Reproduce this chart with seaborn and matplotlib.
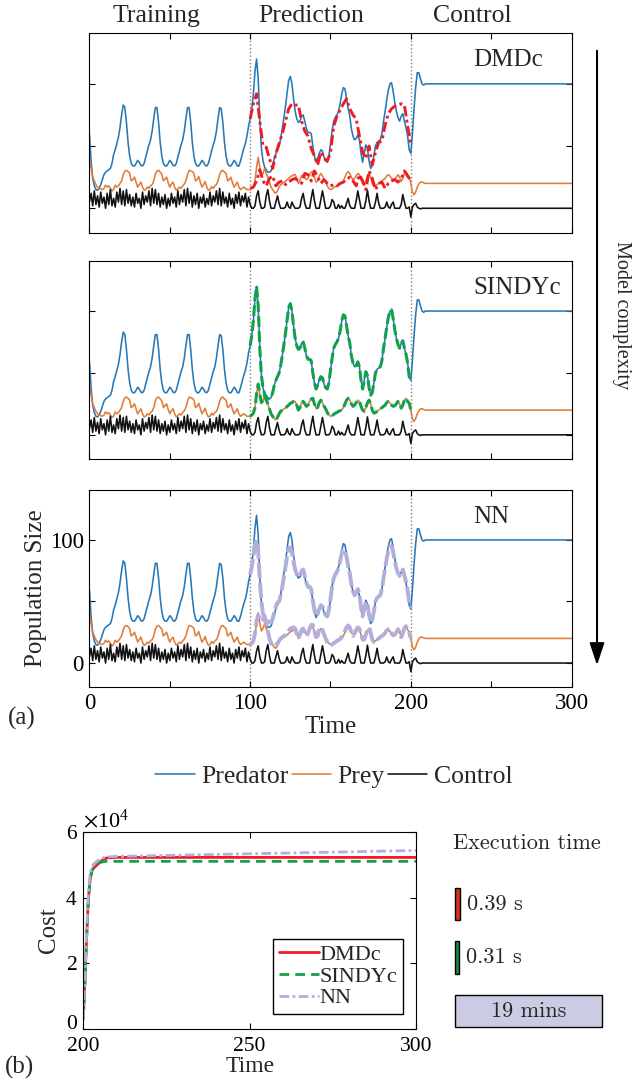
import numpy as np
import matplotlib
matplotlib.use("Agg")
import matplotlib.pyplot as plt
import matplotlib.transforms as mtransforms
from matplotlib.ticker import ScalarFormatter
import seaborn as sns

# ---------------- data ----------------
series_names = ["Predator", "Prey", "Control"]
model_names = ["DMDc", "SINDYc", "NN"]
phase_labels = ["Training", "Prediction", "Control"]
phase_centers = [42, 138, 238]

time_true = list(range(0, 211)) + [300]
predator_true = [
    59, 38, 24, 18, 15, 14.5, 16, 19, 23, 27,
    29, 30, 31, 32, 36, 43, 47, 52, 57, 65,
    75, 83, 81, 69, 53, 42, 36, 34, 34, 36,
    38.5, 37, 34.5, 34, 36, 41, 46, 51, 55, 62,
    72, 81, 81, 69, 53, 42, 36, 34, 34, 36,
    38.5, 37, 34.5, 34, 36, 41, 46, 51, 55, 62,
    72, 81, 81, 69, 53, 42, 36, 34, 34, 36,
    38.5, 37, 34.5, 34, 36, 41, 46, 51, 55, 62,
    72, 81, 80, 69, 53, 42, 36, 34, 34, 36,
    38.5, 37, 34, 34, 38, 43, 48, 52, 58, 66,
    72, 80, 92, 110, 120, 104, 70, 48, 38, 33,
    31, 29, 29, 30, 34, 40, 44, 47, 50, 56,
    64, 73, 82, 93, 103, 106, 100, 88, 78, 72,
    69, 70, 74, 75, 70, 64, 61, 61, 60, 50,
    42, 37, 40, 44, 47, 46, 41, 38, 37, 42,
    52, 62, 70, 73, 75, 78, 84, 92, 97, 96,
    88, 80, 74, 64, 58, 55, 56, 59, 55, 44,
    37, 44, 51, 48, 38, 32, 34, 42, 50, 53,
    54, 55, 60, 70, 78, 87, 95, 100, 101, 94,
    85, 78, 73, 70, 74, 76, 70, 65, 58, 47,
    44, 60, 80, 97, 109, 109, 104, 100, 99, 100,
    100, 100]
prey_true = [
    40, 32, 25, 22, 19, 17, 16, 15.5, 15, 16,
    18.5, 17, 18, 16, 14, 15, 18.5, 17, 18, 20,
    22, 27, 30, 30.5, 29.5, 28, 22, 23, 25, 21,
    17, 19, 21, 17, 14.5, 15, 17, 16, 18, 19,
    22, 27.5, 30, 30.5, 29, 27.5, 22, 23.5, 25, 20.5,
    17, 19.5, 21, 17, 14.5, 15.5, 17, 16, 18, 19.5,
    22, 27, 30.5, 30, 29.5, 28, 22, 23, 25.5, 21,
    17, 19, 21.5, 17, 14.5, 15, 17.5, 16, 18, 19,
    22, 27, 30, 30.5, 29, 28, 22, 23, 25, 20.5,
    17, 19, 21, 17, 15, 16, 17, 16, 15, 15,
    15, 16, 17.5, 22, 33, 41, 33, 26, 28, 32,
    28, 25, 21, 17, 15, 13, 12, 14, 17, 19,
    20, 21, 21.5, 23, 24, 25.5, 26, 27, 27, 24,
    20, 22, 26, 27, 25, 23, 24, 27, 29, 29.5,
    25, 21, 22, 26, 28, 26, 23, 21, 18, 16,
    15, 15.5, 16.5, 17.5, 18, 19, 19.5, 20, 22, 25,
    28, 29.5, 28, 25, 23, 24, 26, 28, 27, 23,
    20, 19, 22, 26, 28, 25, 20, 17.5, 18, 19,
    20, 21, 22, 23, 24, 26, 27, 26, 24, 23,
    23.5, 25, 27, 25, 21.5, 24, 28, 29.5, 27, 25.5,
    20, 13, 10.8, 13, 17, 19.5, 21, 21, 20.5, 20,
    20, 20]
control_true = [
    5, 12, 2, 14, 3, 10, 1, 13, 4, 9,
    0, 12, 3, 15, 2, 8, 1, 13, 5, 16,
    3, 14, 2, 15, 4, 11, 2, 9, 1, 12,
    4, 8, 0, 13, 3, 10, 5, 14, 2, 16,
    4, 15, 3, 12, 1, 9, 3, 11, 0, 8,
    2, 12, 4, 9, 1, 14, 3, 11, 5, 15,
    2, 16, 4, 13, 1, 10, 3, 12, 0, 9,
    4, 11, 1, 8, 3, 13, 2, 10, 5, 14,
    3, 16, 2, 13, 4, 9, 1, 12, 3, 8,
    0, 11, 4, 13, 2, 10, 5, 12, 1, 9,
    3, 0, 0, 2, 10, 14, 5, 0, 0, 1,
    10, 15, 6, 0, 0, 0, 5, 10, 4, 0,
    0, 0, 1, 5, 1, 0, 5, 2, 0, 0,
    0, 1, 8, 12, 4, 0, 0, 0, 8, 15,
    6, 0, 0, 0, 7, 14, 7, 0, 0, 0,
    2, 7, 5, 0, 0, 3, 0, 2, 0, 0,
    4, 8, 2, 0, 0, 0, 6, 14, 7, 0,
    0, 0, 6, 14.5, 6, 0, 0, 0, 5, 12,
    4, 0, 0, 0, 1, 5, 1, 0, 3, 5,
    0, 0, 0, 0, 3, 11, 5, 0, 0, 1,
    -7, 1, 3, 4, 1, 0, -0.5, 0, 0, 0,
    0, 0]

time_dmdc = list(range(100, 201, 2))
dmdc_predator = [
    72, 84, 92, 70, 50, 49, 40, 32, 44, 52,
    60, 70, 80, 84, 83, 83, 70, 62, 58, 48,
    42, 35, 45, 40, 38, 45, 66, 74, 79, 84,
    88, 80, 75, 72, 58, 45, 40, 50, 35, 45,
    53, 54, 67, 76, 80, 82, 83, 84, 83, 66,
    52]
dmdc_prey = [
    16, 17, 22, 31, 22, 18, 24, 26, 18, 21,
    22, 19, 21, 23, 24, 22, 20, 28, 27, 22,
    30, 25, 20, 23, 20, 18, 19, 18, 20, 21,
    23, 25, 22, 18, 27, 22, 15, 30, 24, 15,
    20, 21, 16, 20, 22, 23, 21, 24, 30, 26,
    22]

time_model = list(range(100, 201))
sindy_predator = [
    72, 80, 92, 110, 120, 104, 70, 48, 38, 33,
    31, 29, 29, 30, 34, 40, 44, 47, 50, 56,
    64, 73, 82, 93, 103, 106, 100, 88, 78, 72,
    69, 70, 74, 75, 70, 64, 61, 61, 60, 50,
    42, 37, 40, 44, 47, 46, 41, 38, 37, 42,
    52, 62, 70, 73, 75, 78, 84, 92, 97, 96,
    88, 80, 74, 64, 58, 55, 56, 59, 55, 44,
    37, 44, 51, 48, 38, 32, 34, 42, 50, 53,
    54, 55, 60, 70, 78, 87, 95, 100, 101, 94,
    85, 78, 73, 70, 74, 76, 70, 65, 58, 47,
    44]
sindy_prey = [
    15, 16, 17.5, 22, 33, 41, 33, 26, 28, 32,
    28, 25, 21, 17, 15, 13, 12, 14, 17, 19,
    20, 21, 21.5, 23, 24, 25.5, 26, 27, 27, 24,
    20, 22, 26, 27, 25, 23, 24, 27, 29, 29.5,
    25, 21, 22, 26, 28, 26, 23, 21, 18, 16,
    15, 15.5, 16.5, 17.5, 18, 19, 19.5, 20, 22, 25,
    28, 29.5, 28, 25, 23, 24, 26, 28, 27, 23,
    20, 19, 22, 26, 28, 25, 20, 17.5, 18, 19,
    20, 21, 22, 23, 24, 26, 27, 26, 24, 23,
    23.5, 25, 27, 25, 21.5, 24, 28, 29.5, 27, 25.5,
    20]
nn_predator = [
    72, 78, 86, 96, 100, 90, 68, 50, 40, 38,
    36, 34, 33, 33, 36, 41, 46, 49, 50, 55,
    62, 70, 78, 87, 93, 94, 90, 82, 76, 72,
    70, 71, 75, 76, 71, 65, 62, 62, 60, 51,
    43, 38, 40, 44, 47, 46, 42, 39, 38, 43,
    52, 62, 69, 72, 74, 77, 83, 89, 92, 92,
    86, 79, 73, 64, 58, 55, 57, 60, 56, 45,
    38, 44, 50, 48, 39, 33, 35, 42, 50, 53,
    54, 55, 60, 69, 77, 85, 91, 95, 95, 90,
    83, 77, 73, 71, 74, 76, 71, 66, 59, 49,
    45]
nn_prey = [
    15, 16, 18, 24, 34, 39, 36, 34, 36, 38,
    32, 26, 20, 16, 15, 14, 14, 16, 18, 20,
    21, 22, 22.5, 24, 26, 28, 28.5, 29, 28, 24,
    20, 23, 27, 28, 25, 22, 24, 28, 31, 31,
    26, 21, 22, 27, 29, 27, 23, 20, 17, 15,
    14.5, 15, 16, 17, 18, 18.5, 19.5, 21, 23, 26,
    29, 30.5, 29, 25, 22, 24, 27, 29, 28, 23,
    19, 19, 23, 27, 29, 25, 19, 17, 18, 19,
    20, 21, 22, 23, 24.5, 26.5, 27.5, 26, 24, 22.5,
    23, 25, 27.5, 25, 21, 24, 28.5, 30, 27.5, 25,
    20]

cost_time = [200, 200.5, 201, 201.5, 202, 202.5, 203, 204, 205, 206, 207, 208, 210, 230, 250, 300]
cost_dmdc = [3e3, 1.5e4, 2.8e4, 3.9e4, 4.5e4, 4.8e4, 4.88e4, 4.98e4, 5.08e4, 5.16e4,
             5.2e4, 5.21e4, 5.22e4, 5.22e4, 5.22e4, 5.22e4]
cost_sindy = [3e3, 1.5e4, 2.8e4, 3.9e4, 4.5e4, 4.8e4, 4.9e4, 5.0e4, 5.06e4, 5.09e4,
              5.1e4, 5.1e4, 5.1e4, 5.1e4, 5.1e4, 5.1e4]
cost_nn = [3e3, 1.6e4, 3.0e4, 4.1e4, 4.7e4, 4.9e4, 5.0e4, 5.1e4, 5.17e4, 5.21e4,
           5.23e4, 5.24e4, 5.25e4, 5.29e4, 5.33e4, 5.43e4]

exec_seconds = [0.39, 0.31, 1140]
exec_labels = ["0.39 s", "0.31 s", "19 mins"]

# ---------------- style ----------------
sns.set_theme(style="ticks")
plt.rcParams["font.family"] = ["Liberation Serif", "DejaVu Serif"]
plt.rcParams["mathtext.fontset"] = "stix"
plt.rcParams["axes.linewidth"] = 0.8
plt.rcParams["axes.edgecolor"] = "black"

C_PRED = "#2878b5"
C_PREY = "#de7d3c"
C_CTRL = "#111111"
model_styles = {
    "DMDc": dict(color="#ee1c25", linewidth=2.1, linestyle=(0, (3.5, 1.2, 1.0, 1.2))),
    "SINDYc": dict(color="#12a04c", linewidth=2.2, linestyle=(0, (3.5, 1.4))),
    "NN": dict(color="#b3aedb", linewidth=2.8, linestyle=(0, (4, 1.0))),
}
model_data = {
    "DMDc": (time_dmdc, dmdc_predator, dmdc_prey),
    "SINDYc": (time_model, sindy_predator, sindy_prey),
    "NN": (time_model, nn_predator, nn_prey),
}

fig = plt.figure(figsize=(6.36, 10.84), dpi=100)

panel_pos = [
    [0.1407, 0.7855, 0.7579, 0.1836],
    [0.1407, 0.5766, 0.7579, 0.1827],
    [0.1407, 0.3662, 0.7579, 0.1817],
]

legend_handles = []
axes_a = []
for i, (name, pos) in enumerate(zip(model_names, panel_pos)):
    ax = fig.add_axes(pos)
    axes_a.append(ax)
    hs = []
    for vals, col in zip([predator_true, prey_true, control_true], [C_PRED, C_PREY, C_CTRL]):
        sns.lineplot(x=time_true, y=vals, ax=ax, color=col, linewidth=1.15,
                     estimator=None, sort=False, legend=False)
        hs.append(ax.lines[-1])
    if i == 2:
        legend_handles = hs
    tm, mp, mq = model_data[name]
    sty = model_styles[name]
    sns.lineplot(x=tm, y=mq, ax=ax, estimator=None, sort=False, legend=False, **sty)
    sns.lineplot(x=tm, y=mp, ax=ax, estimator=None, sort=False, legend=False, **sty)
    for xv in (100, 200):
        ax.axvline(xv, color="0.5", linestyle=":", linewidth=1.0, zorder=0)
    ax.set_xlim(0, 300)
    ax.set_ylim(-19.5, 140.5)
    ax.set_xticks([0, 50, 100, 150, 200, 250, 300])
    ax.set_yticks([0, 50, 100])
    ax.tick_params(direction="in", length=4, width=0.8, top=True, right=True,
                   labelsize=16.5, colors="black", pad=4)
    ax.set_xlabel("")
    ax.set_ylabel("")
    ax.text(239, 119, name, ha="left", va="center", fontsize=18)
    if i < 2:
        ax.tick_params(labelbottom=False, labelleft=False)
    else:
        ax.set_xticklabels(["0", "", "100", "", "200", "", "300"])
        ax.set_yticklabels(["0", "", "100"])
        ax.set_xlabel("Time", fontsize=18, labelpad=2)
        ax.set_ylabel("Population Size", fontsize=18, labelpad=2)

# phase headers
trans_top = mtransforms.blended_transform_factory(axes_a[0].transData, axes_a[0].transAxes)
for lab, xc in zip(phase_labels, phase_centers):
    axes_a[0].text(xc, 1.088, lab, transform=trans_top, ha="center", va="center",
                   fontsize=18.5, clip_on=False)

# model complexity arrow
axes_a[0].annotate("", xy=(0.9387, 0.3838), xycoords="figure fraction",
                   xytext=(0.9387, 0.9557), textcoords="figure fraction",
                   arrowprops=dict(arrowstyle="-|>,head_length=0.9,head_width=0.3",
                                   mutation_scale=15, color="black", lw=1.5),
                   annotation_clip=False)
fig.text(622 / 636, 1 - 315 / 1084, "Model complexity", rotation=270,
         ha="center", va="center", fontsize=14.5)

fig.text(22 / 636, 1 - 718 / 1084, "(a)", ha="center", va="center", fontsize=18)

fig.legend(legend_handles, series_names, loc="center", bbox_to_anchor=(0.525, 1 - 776.7 / 1084),
           ncol=3, frameon=False, handlelength=1.55, handletextpad=0.25,
           columnspacing=0.1, fontsize=18.5)

# ---------------- panel (b) ----------------
axb = fig.add_axes([0.131, 0.0507, 0.5231, 0.182])
cost_styles = [
    dict(color="#ee1c25", linewidth=2.0, linestyle="-"),
    dict(color="#12a04c", linewidth=2.0, linestyle=(0, (3.5, 2.2))),
    dict(color="#b3aedb", linewidth=2.0, linestyle=(0, (3.5, 1.2, 1.0, 1.2))),
]
cost_handles = []
for vals, sty in zip([cost_dmdc, cost_sindy, cost_nn], cost_styles):
    sns.lineplot(x=cost_time, y=vals, ax=axb, estimator=None, sort=False, legend=False, **sty)
    cost_handles.append(axb.lines[-1])
axb.set_xlim(200, 300)
axb.set_ylim(0, 6e4)
axb.set_xticks([200, 250, 300])
axb.set_yticks([0, 2e4, 4e4, 6e4])
fmt = ScalarFormatter(useMathText=True)
fmt.set_powerlimits((0, 0))
axb.yaxis.set_major_formatter(fmt)
axb.yaxis.get_offset_text().set_fontsize(16)
axb.tick_params(direction="in", length=4, width=0.8, top=True, right=True,
                labelsize=15.5, colors="black", pad=4)
axb.tick_params(axis="x", pad=6)
axb.set_xlabel("Time", fontsize=17, labelpad=0)
axb.set_ylabel("Cost", fontsize=18, labelpad=4)
fig.canvas.draw()
zero_lab = axb.get_yticklabels()[0]
zero_lab.set_transform(zero_lab.get_transform() +
                       mtransforms.ScaledTranslation(0, 5 / 72, fig.dpi_scale_trans))
leg = axb.legend(cost_handles, model_names, loc="lower right", bbox_to_anchor=(0.961, 0.076),
                 borderaxespad=0, frameon=True, fancybox=False, framealpha=1, edgecolor="black",
                 handlelength=1.8, handletextpad=0.05, labelspacing=0.05, borderpad=0.25,
                 fontsize=16)
leg.get_frame().set_linewidth(1.0)
fig.text(20 / 636, 1 - 1067 / 1084, "(b)", ha="center", va="center", fontsize=18)

# ---------------- execution time ----------------
axe = fig.add_axes([455 / 636, 1 - 1030 / 1084, 147 / 636, 146 / 1084])
axe.set_xscale("function", functions=(lambda x: np.log1p(np.asarray(x) / 1.5),
                                      lambda y: 1.5 * np.expm1(np.asarray(y))))
bar_colors = ["#d9301c", "#138a4a", "#cbcbe3"]
axe.barh([0, 1, 2], exec_seconds, height=0.61, color=bar_colors, edgecolor="black",
         linewidth=1.0, clip_on=False)
axe.set_xlim(0, 1140)
axe.set_ylim(2.355, -0.374)
axe.axis("off")
for k in range(2):
    axe.annotate(exec_labels[k], xy=(exec_seconds[k], k), xytext=(5, 0),
                 textcoords="offset points", ha="left", va="center",
                 fontsize=16, family="cmr10")
trans_e = mtransforms.blended_transform_factory(axe.transAxes, axe.transData)
axe.text(0.5, 2, exec_labels[2], transform=trans_e, ha="center", va="center",
         fontsize=16, family="cmr10")
fig.text(527 / 636, 1 - 843 / 1084, "Execution time", ha="center", va="center",
         fontsize=16, family="cmr10")

fig.savefig("out.png", dpi=100)
